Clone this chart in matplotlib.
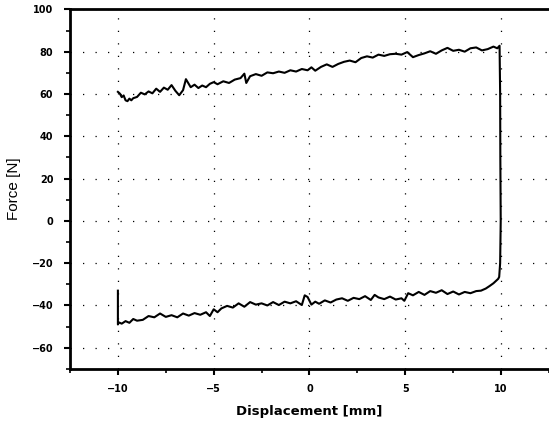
import matplotlib
matplotlib.use("Agg")
import matplotlib.pyplot as plt
from matplotlib.ticker import MultipleLocator

# upper branch (loading) from left to right
upper_x = [-10.0, -9.9, -9.8, -9.7, -9.6, -9.5, -9.4, -9.3, -9.2, -9.0,
           -8.8, -8.6, -8.4, -8.2, -8.0, -7.8, -7.6, -7.4, -7.2, -7.0,
           -6.8, -6.6, -6.45, -6.35, -6.2, -6.0, -5.8, -5.6, -5.4, -5.2,
           -5.0, -4.8, -4.5, -4.2, -3.9, -3.6, -3.4, -3.3, -3.1, -2.8,
           -2.5, -2.2, -1.9, -1.6, -1.3, -1.0, -0.7, -0.4, -0.1, 0.1,
           0.3, 0.6, 0.9, 1.2, 1.5, 1.8, 2.1, 2.4, 2.7, 3.0,
           3.3, 3.6, 3.9, 4.2, 4.5, 4.8, 5.1, 5.4, 5.7, 6.0,
           6.3, 6.6, 6.9, 7.2, 7.5, 7.8, 8.1, 8.4, 8.7, 9.0,
           9.3, 9.6, 9.8]
upper_y = [61.0, 60.2, 58.5, 59.3, 57.0, 56.6, 57.8, 57.0, 58.0, 58.6,
           60.6, 59.8, 61.2, 60.3, 62.5, 61.0, 63.0, 62.0, 64.2, 61.5,
           59.4, 61.8, 67.0, 65.5, 63.2, 64.4, 62.8, 64.0, 63.2, 64.8,
           65.6, 64.6, 66.0, 65.2, 66.8, 67.5, 69.6, 65.2, 68.4, 69.4,
           68.6, 70.2, 69.8, 70.6, 70.0, 71.2, 70.6, 71.8, 71.2, 72.6,
           71.0, 72.8, 74.0, 72.8, 74.2, 75.2, 75.8, 75.0, 77.0, 77.8,
           77.2, 78.6, 78.0, 78.8, 79.0, 78.6, 79.8, 77.4, 78.4, 79.2,
           80.2, 79.0, 80.6, 81.8, 80.4, 80.9, 80.0, 81.6, 82.0, 80.6,
           81.2, 82.4, 81.6]

# unloading drop at the right end
drop_x = [9.92, 9.95, 9.96, 9.98, 9.95, 9.9, 9.85, 9.6, 9.4, 9.2, 8.95]
drop_y = [82.8, 60.0, 30.0, 0.0, -20.0, -26.5, -27.4, -29.5, -30.8, -32.0, -33.0]

# lower branch, right to left
lower_x = [8.7, 8.4, 8.1, 7.8, 7.5, 7.2, 6.9, 6.6, 6.3, 6.0,
           5.7, 5.4, 5.15, 4.95, 4.8, 4.5, 4.2, 3.9, 3.6, 3.4,
           3.2, 2.9, 2.6, 2.3, 2.0, 1.7, 1.4, 1.1, 0.8, 0.5,
           0.3, 0.1, -0.1, -0.25, -0.4, -0.7, -1.0, -1.3, -1.6, -1.9,
           -2.2, -2.5, -2.8, -3.1, -3.4, -3.7, -4.0, -4.3, -4.6, -4.8,
           -5.0, -5.2, -5.4, -5.7, -6.0, -6.3, -6.6, -6.9, -7.2, -7.5,
           -7.8, -8.1, -8.4, -8.7, -9.0, -9.2, -9.4, -9.6, -9.8, -9.95,
           -10.0, -10.0]
lower_y = [-33.2, -34.2, -33.6, -34.8, -33.4, -34.6, -32.8, -34.0, -33.2, -35.0,
           -33.6, -35.2, -34.2, -37.8, -36.6, -37.2, -35.8, -37.0, -36.2, -35.0,
           -37.4, -35.6, -37.0, -36.4, -37.8, -36.6, -37.2, -38.6, -37.6, -39.2,
           -38.2, -39.6, -36.0, -35.2, -39.8, -38.0, -39.0, -38.2, -39.8, -38.4,
           -40.0, -39.0, -39.6, -38.4, -40.6, -39.0, -41.0, -40.2, -41.4, -43.2,
           -41.8, -45.0, -43.2, -44.4, -43.6, -44.8, -43.8, -45.6, -44.6, -45.4,
           -43.8, -45.6, -45.0, -46.8, -47.2, -46.4, -48.2, -47.4, -48.6, -48.0,
           -49.0, -33.0]

x_all = upper_x + drop_x + lower_x
y_all = upper_y + drop_y + lower_y

fig = plt.figure(figsize=(5.49, 4.26), dpi=100)
ax = fig.add_axes([0.1275, 0.134, 0.8725, 0.844])

ax.plot(x_all, y_all, color="black", linewidth=1.5)

ax.set_xlim(-12.5, 12.5)
ax.set_ylim(-70, 100)
ax.xaxis.set_major_locator(MultipleLocator(5))
ax.xaxis.set_minor_locator(MultipleLocator(2.5))
ax.yaxis.set_major_locator(MultipleLocator(20))
ax.yaxis.set_minor_locator(MultipleLocator(10))

# sparse dotted grid like the scanned original
ax.grid(True, which="major", color="black", linestyle=(0, (1, 9)), linewidth=0.9)

for side in ["left", "bottom", "top"]:
    ax.spines[side].set_linewidth(2)
ax.spines["right"].set_visible(False)

ax.tick_params(which="major", direction="out", length=4, width=1.5)
ax.tick_params(which="minor", direction="out", length=3, width=1.2)
ax.tick_params(axis="y", pad=8)
ax.tick_params(axis="x", pad=7)
ax.tick_params(top=False, right=False, which="both")
for lbl in ax.get_xticklabels() + ax.get_yticklabels():
    lbl.set_fontsize(7)
    lbl.set_fontweight("bold")

ax.set_ylabel("Force [N]", fontsize=11, family="Liberation Sans", labelpad=8)
ax.set_xlabel("Displacement [mm]", fontsize=9.5, fontweight="bold", labelpad=8)

fig.savefig("out.png", dpi=100)
